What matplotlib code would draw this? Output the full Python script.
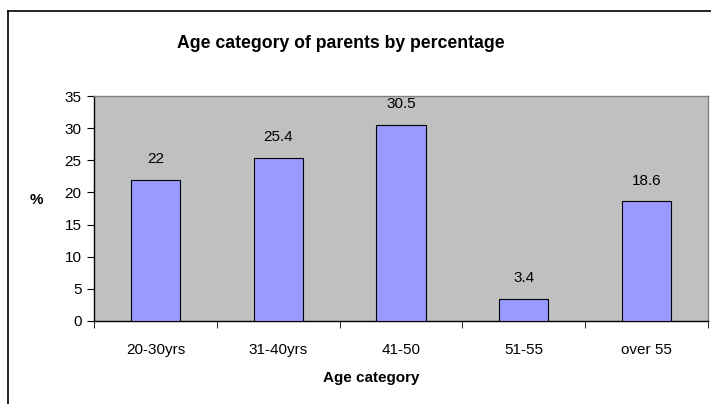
import matplotlib
matplotlib.use("Agg")
import matplotlib.pyplot as plt
from matplotlib.lines import Line2D

categories = ["20-30yrs", "31-40yrs", "41-50", "51-55", "over 55"]
values = [22, 25.4, 30.5, 3.4, 18.6]
value_labels = ["22", "25.4", "30.5", "3.4", "18.6"]
yticks = [0, 5, 10, 15, 20, 25, 30, 35]

plt.rcParams['font.family'] = ['Liberation Sans', 'DejaVu Sans']

W, H = 711, 404
fig = plt.figure(figsize=(W / 100, H / 100), dpi=100)

# outer chart frame (only left and top edges visible)
fig.add_artist(Line2D([7.5 / W, 7.5 / W], [0, 1 - 11 / H], transform=fig.transFigure,
                      color='black', lw=1.2))
fig.add_artist(Line2D([7.5 / W, 1], [1 - 11 / H, 1 - 11 / H], transform=fig.transFigure,
                      color='black', lw=1.2))

left, right, top, bottom = 94, 708, 96, 321
ax = fig.add_axes([left / W, 1 - bottom / H, (right - left) / W, (bottom - top) / H])
ax.set_facecolor('#C0C0C0')

x = list(range(len(categories)))
ax.bar(x, values, width=0.4, color='#9999FF', edgecolor='black', linewidth=0.8, zorder=3)

for xi, v, lab in zip(x, values, value_labels):
    ax.annotate(lab, (xi, v), xytext=(0, 10), textcoords='offset points',
                ha='center', va='bottom', fontsize=11, color='black')

ax.set_xlim(-0.5, len(categories) - 0.5)
ax.set_ylim(0, 35)
ax.set_yticks(yticks)
ax.set_yticklabels([str(t) for t in yticks], fontsize=11)
ax.set_xticks(x)
ax.set_xticklabels(categories, fontsize=11)
ax.tick_params(axis='x', length=0, pad=16)
ax.set_xticks([i - 0.5 for i in range(len(categories) + 1)], minor=True)
ax.tick_params(axis='x', which='minor', length=5, direction='out', color='black')
ax.tick_params(axis='y', length=5, direction='out', pad=4, color='black')

for s in ['left', 'bottom']:
    ax.spines[s].set_color('black')
    ax.spines[s].set_linewidth(1.0)
for s in ['top', 'right']:
    ax.spines[s].set_color('#808080')
    ax.spines[s].set_linewidth(1.0)

fig.text(371 / W, 1 - 378 / H, "Age category", ha='center', va='center',
         fontsize=11, fontweight='bold')
fig.text(36 / W, 1 - 200 / H, "%", ha='center', va='center',
         fontsize=11, fontweight='bold')

fig.text(341 / W, 1 - 43 / H, "Age category of parents by percentage",
         ha='center', va='center', fontsize=12.7, fontweight='bold')

fig.savefig("out.png", dpi=100)
